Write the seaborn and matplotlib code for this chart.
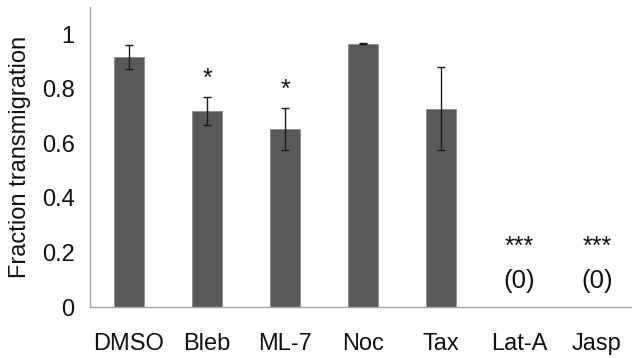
import matplotlib
matplotlib.use("Agg")
import matplotlib.pyplot as plt
import seaborn as sns
import pandas as pd
import numpy as np

categories = ["DMSO", "Bleb", "ML-7", "Noc", "Tax", "Lat-A", "Jasp"]
values = [0.915, 0.718, 0.652, 0.966, 0.727, 0.0, 0.0]
errors = [0.044, 0.052, 0.078, 0.003, 0.153, 0.0, 0.0]
stars = ["", "*", "*", "", "", "***", "***"]
zero_labels = ["", "", "", "", "", "(0)", "(0)"]
yticks = [0, 0.2, 0.4, 0.6, 0.8, 1]
ytick_labels = ["0", "0.2", "0.4", "0.6", "0.8", "1"]

sns.set_theme(style="white")
plt.rcParams["font.family"] = ["Liberation Sans", "DejaVu Sans"]

df = pd.DataFrame({"cat": categories, "val": values})

fig = plt.figure(figsize=(6.32, 3.58), dpi=100)
ax = fig.add_axes([90 / 632, 51 / 358, (636 - 90) / 632, (307 - 7) / 358])

sns.barplot(data=df, x="cat", y="val", color="#595959", width=0.39,
            saturation=1, edgecolor="#8a8a8a", linewidth=0.6, ax=ax, errorbar=None)

xpos = np.arange(len(categories))
mask = np.array(values) > 0
ax.errorbar(xpos[mask], np.array(values)[mask], yerr=np.array(errors)[mask],
            fmt="none", ecolor="#1a1a1a", elinewidth=1.0, capsize=3, capthick=1.0)

for i, s in enumerate(stars):
    if not s:
        continue
    if values[i] > 0:
        y = values[i] + errors[i] + 0.068
    else:
        y = 0.222
    ax.text(i, y, s, ha="center", va="center", fontsize=18, color="#111111")
for i, z in enumerate(zero_labels):
    if z:
        ax.text(i, 0.095, z, ha="center", va="center", fontsize=18.5, color="#111111")

ax.set_xlim(-0.5, 6.5)
ax.set_ylim(0, 1.1)
ax.set_yticks(yticks)
ax.set_yticklabels(ytick_labels, fontsize=17, color="#111111")
ax.set_xticks(xpos)
ax.set_xticklabels(categories, fontsize=17, color="#111111")
ax.set_xticks(np.arange(-0.5, 6.6, 1.0), minor=True)
ax.tick_params(axis="x", which="major", length=0, pad=19)
ax.tick_params(axis="x", which="minor", length=5, width=1, color="#a6a6a6", direction="out")
ax.tick_params(axis="y", which="major", length=4, width=1, color="#a6a6a6", direction="out", pad=7)
ax.set_xlabel("")
ax.set_ylabel("Fraction transmigration", fontsize=17, color="#111111", labelpad=8)

for side in ["top", "right"]:
    ax.spines[side].set_visible(False)
for side in ["left", "bottom"]:
    ax.spines[side].set_color("#a6a6a6")
    ax.spines[side].set_linewidth(1.0)

fig.savefig("out.png", dpi=100)
